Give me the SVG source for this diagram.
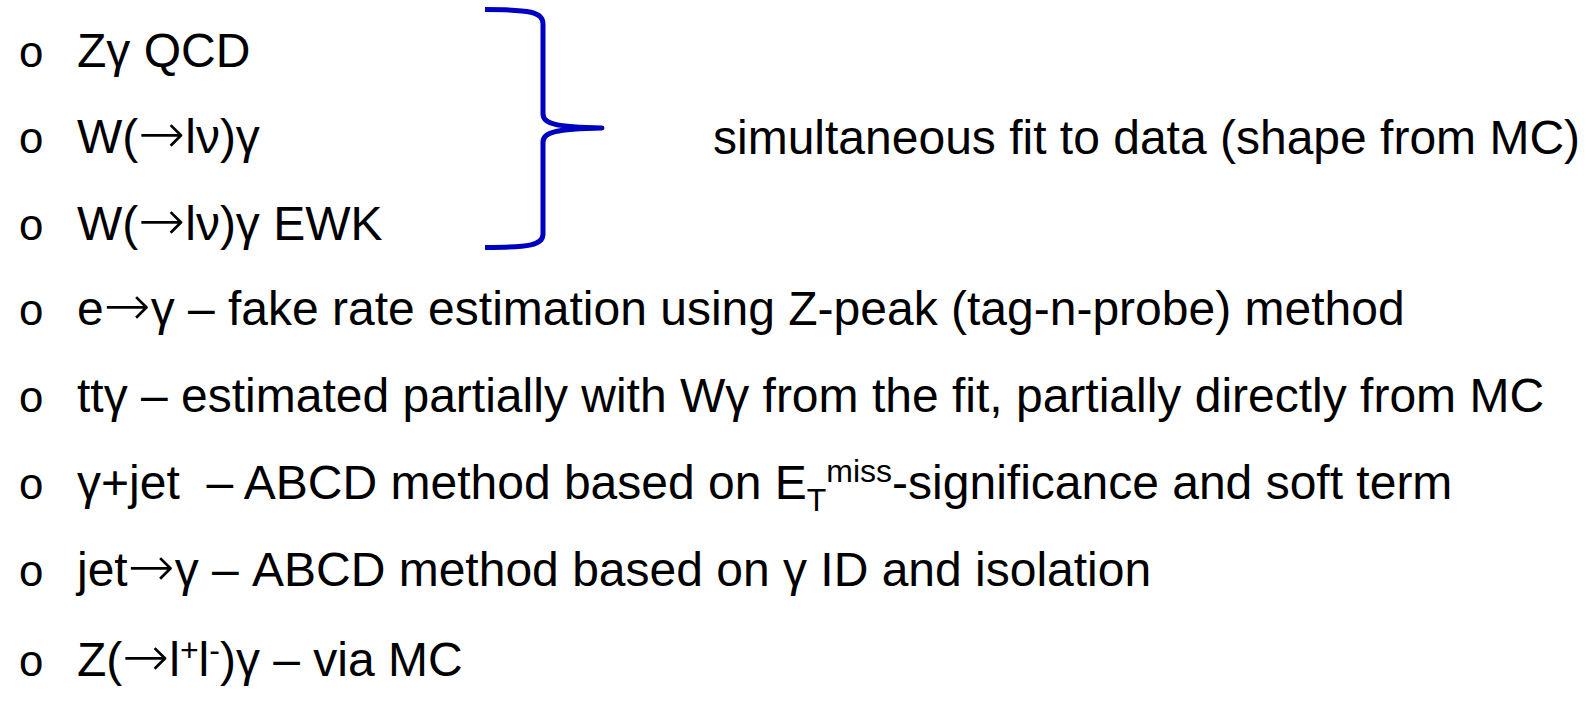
<svg xmlns="http://www.w3.org/2000/svg" width="1586" height="708" viewBox="0 0 1586 708">
<style>
  .t { font-family: "Liberation Sans", Arial, sans-serif; font-size: 48px; fill: #000; white-space: pre; }
  .b { font-family: "Liberation Mono", "Courier New", monospace; font-size: 44px; fill: #000; }
  .sm { font-size: 32px; }
  .ar { font-family: "DejaVu Sans", sans-serif; font-size: 56px; font-weight: 200; }
  .brace { fill: none; stroke: #0000C0; stroke-width: 5; stroke-linejoin: round; }
</style>
<rect width="1586" height="708" fill="#ffffff"/>
<g id="item1"><text class="b" x="18" y="67">o</text><text class="t" x="77" y="67">Zγ QCD</text></g>
<g id="item2"><text class="b" x="18" y="153">o</text><text class="t" x="77" y="153">W(<tspan class="ar">→</tspan>lν)γ</text></g>
<g id="item3"><text class="b" x="18" y="240">o</text><text class="t" x="77" y="240">W(<tspan class="ar">→</tspan>lν)γ EWK</text></g>
<g id="item4"><text class="b" x="18" y="325">o</text><text class="t" x="77" y="325">e<tspan class="ar">→</tspan>γ – fake rate estimation using Z-peak (tag-n-probe) method</text></g>
<g id="item5"><text class="b" x="18" y="412">o</text><text class="t" x="77" y="412">ttγ – estimated partially with Wγ from the fit, partially directly from MC</text></g>
<g id="item6"><text class="b" x="18" y="499">o</text><text class="t" x="77" y="499" xml:space="preserve">γ+jet  – ABCD method based on E<tspan class="sm" dy="12">T</tspan><tspan class="sm" dy="-29">miss</tspan><tspan dy="17">-significance and soft term</tspan></text></g>
<g id="item7"><text class="b" x="18" y="586">o</text><text class="t" x="77" y="586">jet<tspan class="ar">→</tspan>γ – ABCD method based on γ ID and isolation</text></g>
<g id="item8"><text class="b" x="18" y="676">o</text><text class="t" x="77" y="676">Z(<tspan class="ar">→</tspan>l<tspan class="sm" dy="-15">+</tspan><tspan dy="15">l</tspan><tspan class="sm" dy="-15">-</tspan><tspan dy="15">)γ – via MC</tspan></text></g>
<g id="fit-label"><text class="t" x="713" y="154">simultaneous fit to data (shape from MC)</text></g>
<g id="connectors">
  <path class="brace" d="M485,9.5 C530,9.5 543,12 543,24 L543,114 C543,124 556,127 602,128 C556,129 543,132 543,142 L543,234 C543,245 530,247.5 485,247.5"/>
</g>
</svg>
